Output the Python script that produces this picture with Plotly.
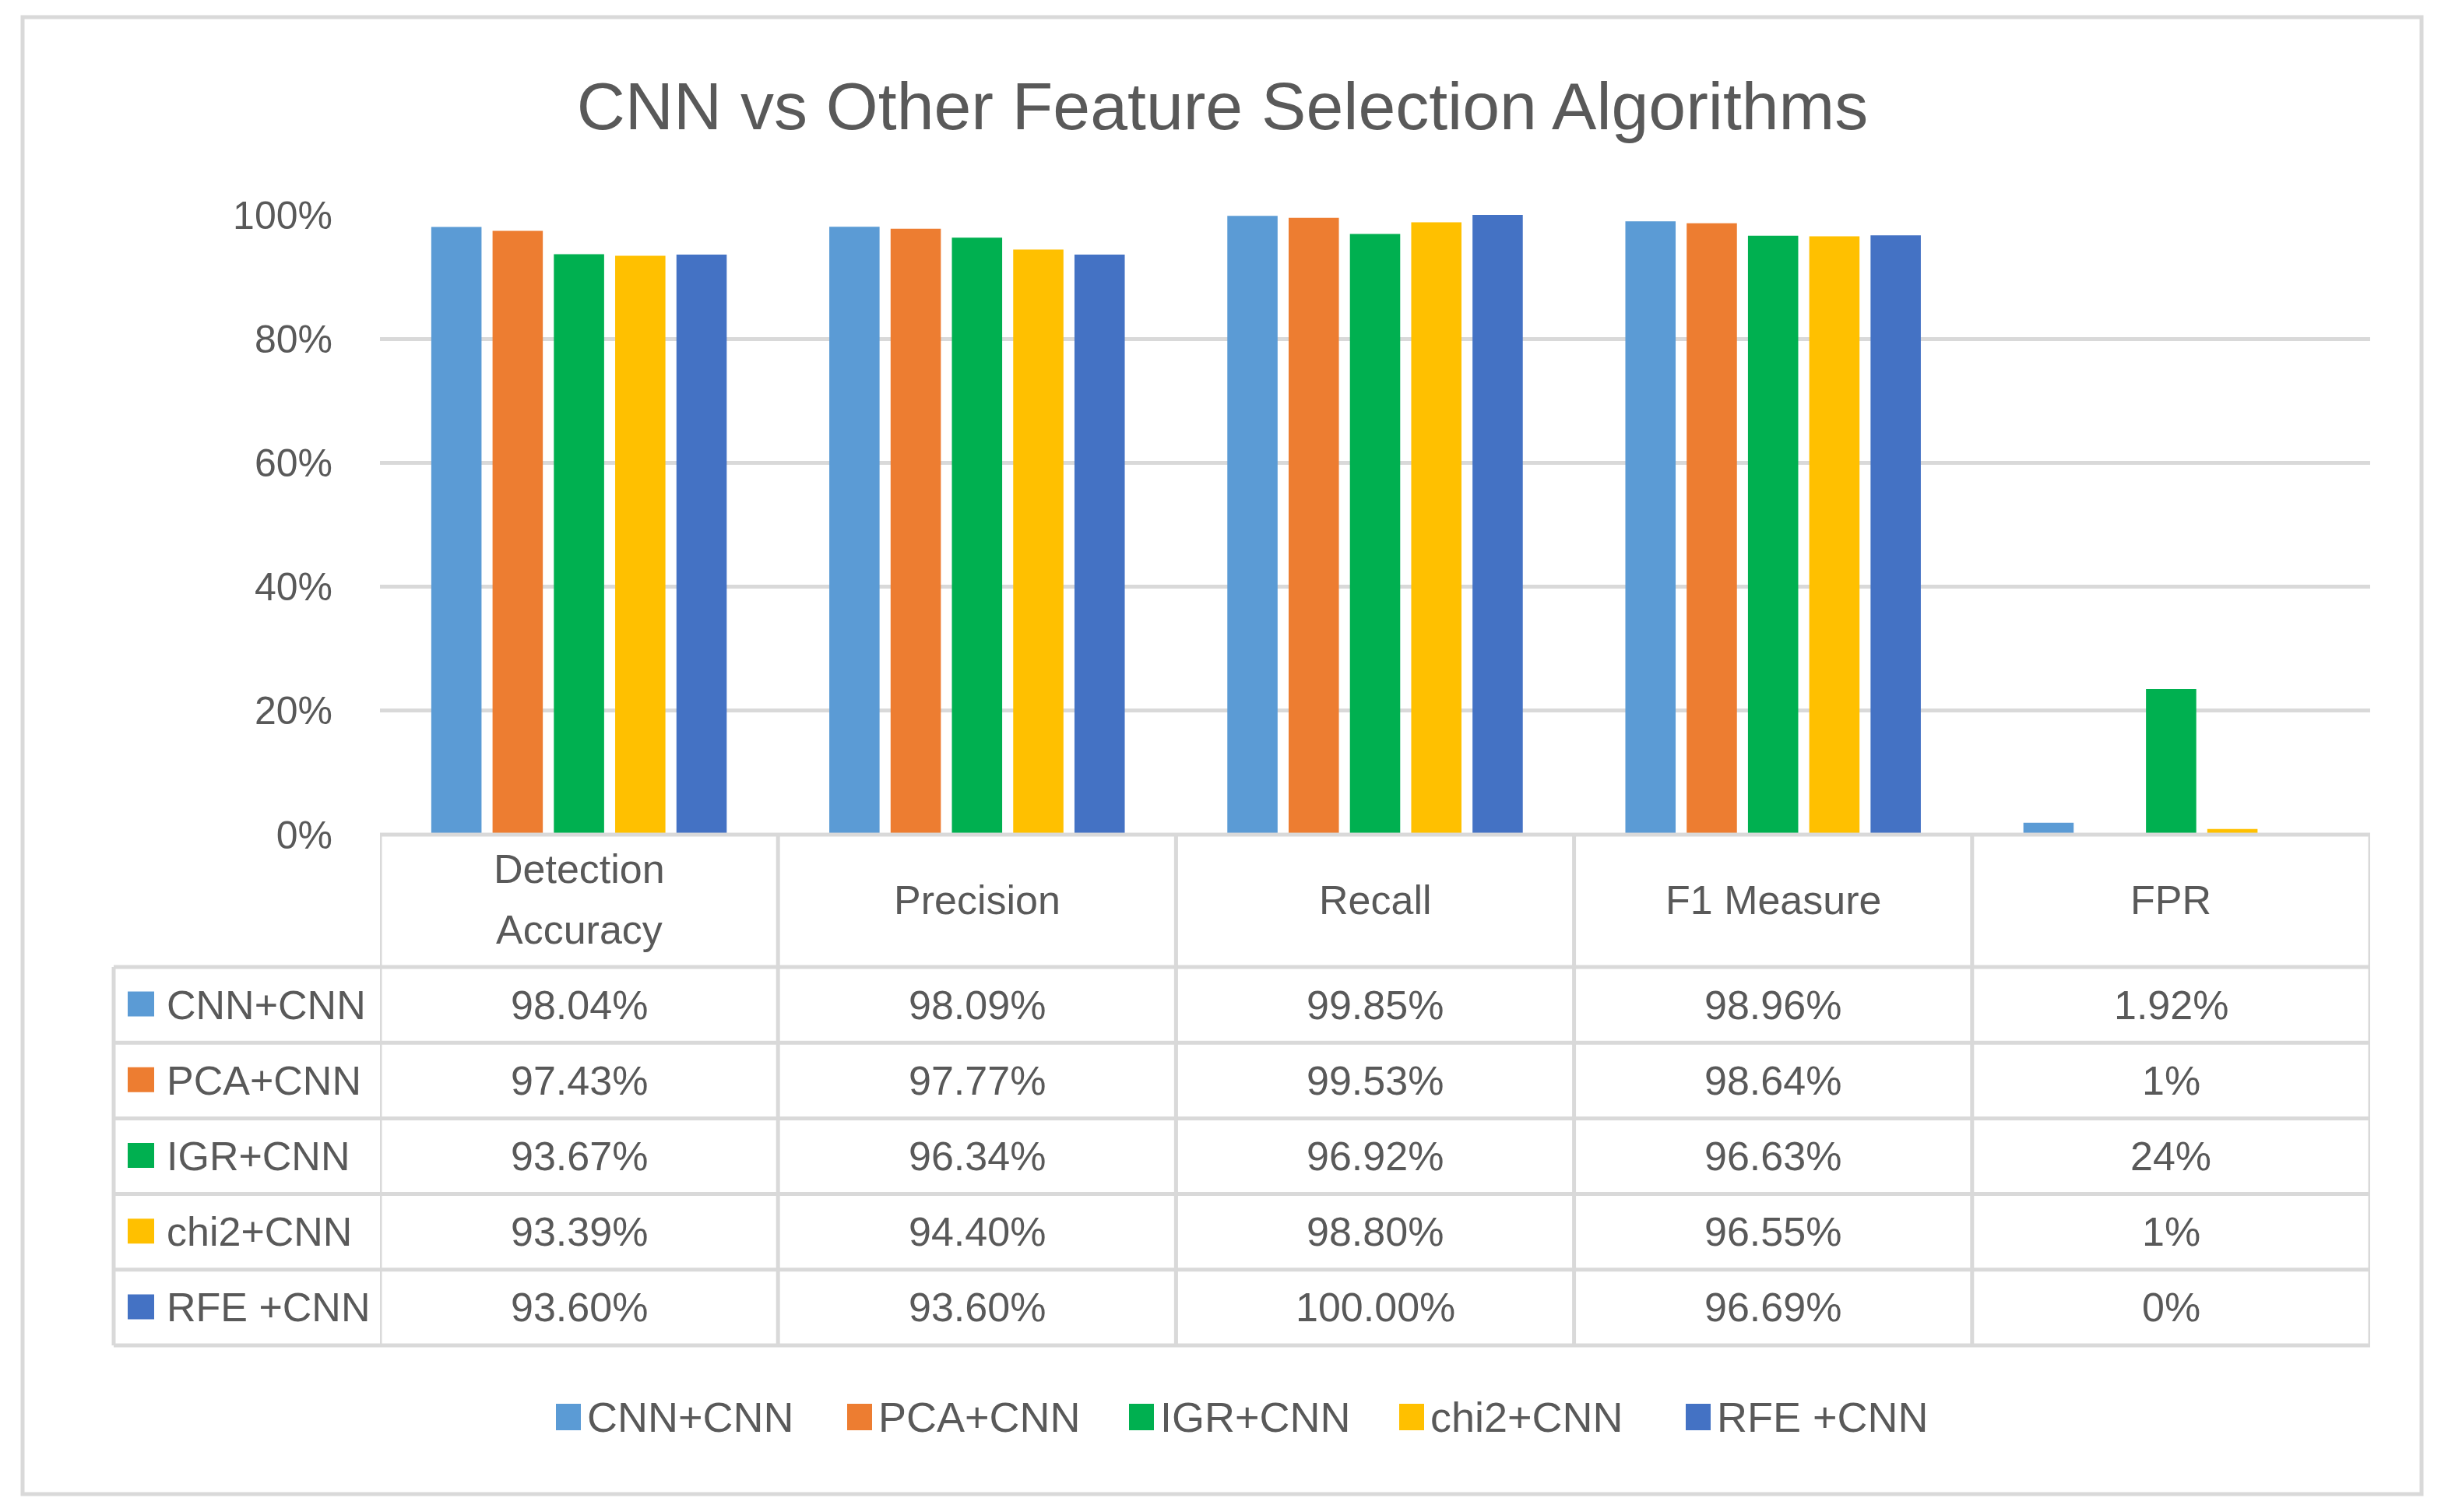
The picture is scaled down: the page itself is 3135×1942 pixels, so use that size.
import plotly.graph_objects as go

# ---------------- data ----------------
metrics = ["Detection Accuracy", "Precision", "Recall", "F1 Measure", "FPR"]
header_lines = [["Detection", "Accuracy"], ["Precision"], ["Recall"], ["F1 Measure"], ["FPR"]]
series_names = ["CNN+CNN", "PCA+CNN", "IGR+CNN", "chi2+CNN", "RFE +CNN"]

cnn_cnn = [98.04, 98.09, 99.85, 98.96, 1.92]
pca_cnn = [97.43, 97.77, 99.53, 98.64, 0.05]
igr_cnn = [93.67, 96.34, 96.92, 96.63, 23.5]
chi2_cnn = [93.39, 94.40, 98.80, 96.55, 0.9]
rfe_cnn = [93.60, 93.60, 100.00, 96.69, 0.0]

cnn_cnn_text = ["98.04%", "98.09%", "99.85%", "98.96%", "1.92%"]
pca_cnn_text = ["97.43%", "97.77%", "99.53%", "98.64%", "1%"]
igr_cnn_text = ["93.67%", "96.34%", "96.92%", "96.63%", "24%"]
chi2_cnn_text = ["93.39%", "94.40%", "98.80%", "96.55%", "1%"]
rfe_cnn_text = ["93.60%", "93.60%", "100.00%", "96.69%", "0%"]

tick_vals = [0, 20, 40, 60, 80, 100]
tick_text = ["0%", "20%", "40%", "60%", "80%", "100%"]

colors = ["#5B9BD5", "#ED7D31", "#00B050", "#FFC000", "#4472C4"]
series_values = [cnn_cnn, pca_cnn, igr_cnn, chi2_cnn, rfe_cnn]
series_texts = [cnn_cnn_text, pca_cnn_text, igr_cnn_text, chi2_cnn_text, rfe_cnn_text]

# ---------------- geometry (pixels) ----------------
W, H = 3135, 1942
OFF = 8  # page body margin compensation
FONT = "Liberation Sans"
TXT = "#595959"
GRID = "#D9D9D9"


def py(p):
    return 1 - (p - OFF) / H


def px(p):
    return (p - OFF) / W


plot_left, plot_right = 488, 3044
plot_top, plot_bottom = 276, 1072
header_bottom = 1242
row_h = 97.2
table_left = 146

fig = go.Figure()
for name, vals, col in zip(series_names, series_values, colors):
    fig.add_trace(go.Bar(x=metrics, y=vals, name=name, marker=dict(color=col, line=dict(width=0)),
                         showlegend=False))

shapes = []
annotations = []

# outer border
shapes.append(dict(type="rect", xref="paper", yref="paper", x0=px(29), x1=px(3110), y0=py(22), y1=py(1919),
                   line=dict(color=GRID, width=5), fillcolor="rgba(0,0,0,0)"))

# table horizontal lines
shapes.append(dict(type="line", xref="x", yref="paper", x0=-0.5, x1=4.5, y0=py(plot_bottom), y1=py(plot_bottom),
                   line=dict(color=GRID, width=5)))
for i in range(6):
    yy = header_bottom + i * row_h
    shapes.append(dict(type="line", xref="paper", yref="paper", x0=px(table_left), x1=px(plot_right),
                       y0=py(yy), y1=py(yy), line=dict(color=GRID, width=5)))
# table vertical lines
for j in range(6):
    shapes.append(dict(type="line", xref="x", yref="paper", x0=-0.5 + j, x1=-0.5 + j,
                       y0=py(plot_bottom), y1=py(header_bottom + 5 * row_h), line=dict(color=GRID, width=5)))
shapes.append(dict(type="line", xref="paper", yref="paper", x0=px(table_left), x1=px(table_left),
                   y0=py(header_bottom), y1=py(header_bottom + 5 * row_h), line=dict(color=GRID, width=5)))

# header texts
for j, lines in enumerate(header_lines):
    ys = [1116, 1194] if len(lines) == 2 else [1156]
    for t, yy in zip(lines, ys):
        annotations.append(dict(x=metrics[j], xref="x", y=py(yy), yref="paper", text=t, showarrow=False,
                                font=dict(family=FONT, size=52, color=TXT), xanchor="center", yanchor="middle"))

# row labels + values
for i, (name, texts, col) in enumerate(zip(series_names, series_texts, colors)):
    yc = header_bottom + (i + 0.5) * row_h
    shapes.append(dict(type="rect", xref="paper", yref="paper", x0=px(164), x1=px(198),
                       y0=py(yc - 17), y1=py(yc + 15), line=dict(width=0), fillcolor=col))
    annotations.append(dict(x=px(212), xref="paper", y=py(yc), yref="paper", text=name, showarrow=False,
                            font=dict(family=FONT, size=52, color=TXT), xanchor="left", yanchor="middle"))
    for j, t in enumerate(texts):
        annotations.append(dict(x=metrics[j], xref="x", y=py(yc), yref="paper", text=t, showarrow=False,
                                font=dict(family=FONT, size=52, color=TXT), xanchor="center", yanchor="middle"))

# manual legend
legend_x = [714, 1088, 1450, 1797, 2165]
legend_y = 1820
for lx, name, col in zip(legend_x, series_names, colors):
    shapes.append(dict(type="rect", xref="paper", yref="paper", x0=px(lx), x1=px(lx + 32),
                       y0=py(legend_y - 17), y1=py(legend_y + 17), line=dict(width=0), fillcolor=col))
    annotations.append(dict(x=px(lx + 38), xref="paper", y=py(legend_y), yref="paper", text=name,
                            showarrow=False, font=dict(family=FONT, size=54, color=TXT),
                            xanchor="left", yanchor="middle"))

fig.update_layout(
    width=W, height=H,
    autosize=False,
    margin=dict(l=0, r=0, t=0, b=0, pad=0, autoexpand=False),
    paper_bgcolor="white", plot_bgcolor="white",
    title=dict(text="CNN vs Other Feature Selection Algorithms", x=px(1570), xanchor="center",
               y=py(136), yanchor="middle", font=dict(family=FONT, size=86, color=TXT),
               automargin=False),
    barmode="group", bargap=0.23, bargroupgap=0.18,
    xaxis=dict(domain=[px(plot_left), px(plot_right)], showticklabels=False, showgrid=False,
               zeroline=False, showline=False, ticks="", range=[-0.5, 4.5], automargin=False),
    yaxis=dict(domain=[py(plot_bottom), py(plot_top)], range=[0, 100], tickvals=tick_vals,
               ticktext=tick_text, showgrid=True, gridcolor=GRID, gridwidth=5, zeroline=False,
               showline=False, ticks="", ticklabelstandoff=60, automargin=False,
               tickfont=dict(family=FONT, size=50, color=TXT)),
    shapes=shapes,
    annotations=annotations,
    showlegend=False,
)

fig.write_html("out.html")
